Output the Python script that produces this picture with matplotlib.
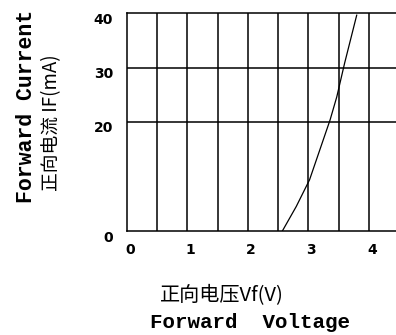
import matplotlib.pyplot as plt
import matplotlib.transforms as mtransforms

# forward voltage (V) vs forward current (mA)
vf = [2.57, 2.8, 3.02, 3.19, 3.36, 3.47, 3.6, 3.8]
i_f = [0, 4.5, 9.4, 14.9, 20.4, 24.6, 30.8, 39.6]

xticks = [0, 1, 2, 3, 4]
yticks = [0, 20, 30, 40]
vgrid = [0.5, 1.0, 1.5, 2.0, 2.5, 3.0, 3.5, 4.0]
hgrid = [20, 30]

W, H = 396, 335
fig = plt.figure(figsize=(W / 100, H / 100), dpi=100)
ax = fig.add_axes([127 / W, (H - 231) / H, 1 - 127 / W, (231 - 13) / H])
ax.set_xlim(0, 4.45)
ax.set_ylim(0, 40)

for x in vgrid:
    ax.axvline(x, color='black', lw=1.1)
for y in hgrid:
    ax.axhline(y, color='black', lw=1.1)

ax.plot(vf, i_f, color='black', lw=0.9)

for side in ['left', 'top', 'bottom']:
    ax.spines[side].set_linewidth(1.1)
ax.spines['right'].set_visible(False)

ax.set_xticks(xticks)
ax.set_yticks(yticks)
ax.set_xticklabels([str(t) for t in xticks], fontsize=10, fontweight='bold')
ax.set_yticklabels([str(t) for t in yticks], fontsize=10, fontweight='bold')
ax.tick_params(length=0)
ax.tick_params(axis='x', pad=9)
ax.tick_params(axis='y', pad=10)

# the scan prints labels a few pixels right / below their grid lines
dx = mtransforms.ScaledTranslation(3 / 100, 0, fig.dpi_scale_trans)
dy = mtransforms.ScaledTranslation(0, -5 / 100, fig.dpi_scale_trans)
for lab in ax.get_xticklabels():
    lab.set_transform(lab.get_transform() + dx)
for lab in ax.get_yticklabels():
    lab.set_transform(lab.get_transform() + dy)

mono = ['Liberation Mono', 'DejaVu Sans Mono']
cjk = ['Noto Sans CJK SC', 'DejaVu Sans']

fig.text(26 / W, 1 - 106 / H, 'Forward Current', rotation=90, family=mono,
         fontweight='bold', fontsize=15.5, ha='center', va='center')
fig.text(52 / W, 1 - 123 / H, '正向电流 IF(mA)', rotation=90, family=cjk,
         fontsize=13.5, ha='center', va='center')
fig.text(222 / W, 1 - 296 / H, '正向电压Vf(V)', family=cjk,
         fontsize=14.5, ha='center', va='center')
fig.text(250 / W, 1 - 323 / H, 'Forward  Voltage', family=mono,
         fontweight='bold', fontsize=15, ha='center', va='center')

fig.savefig('out.png', dpi=100)
